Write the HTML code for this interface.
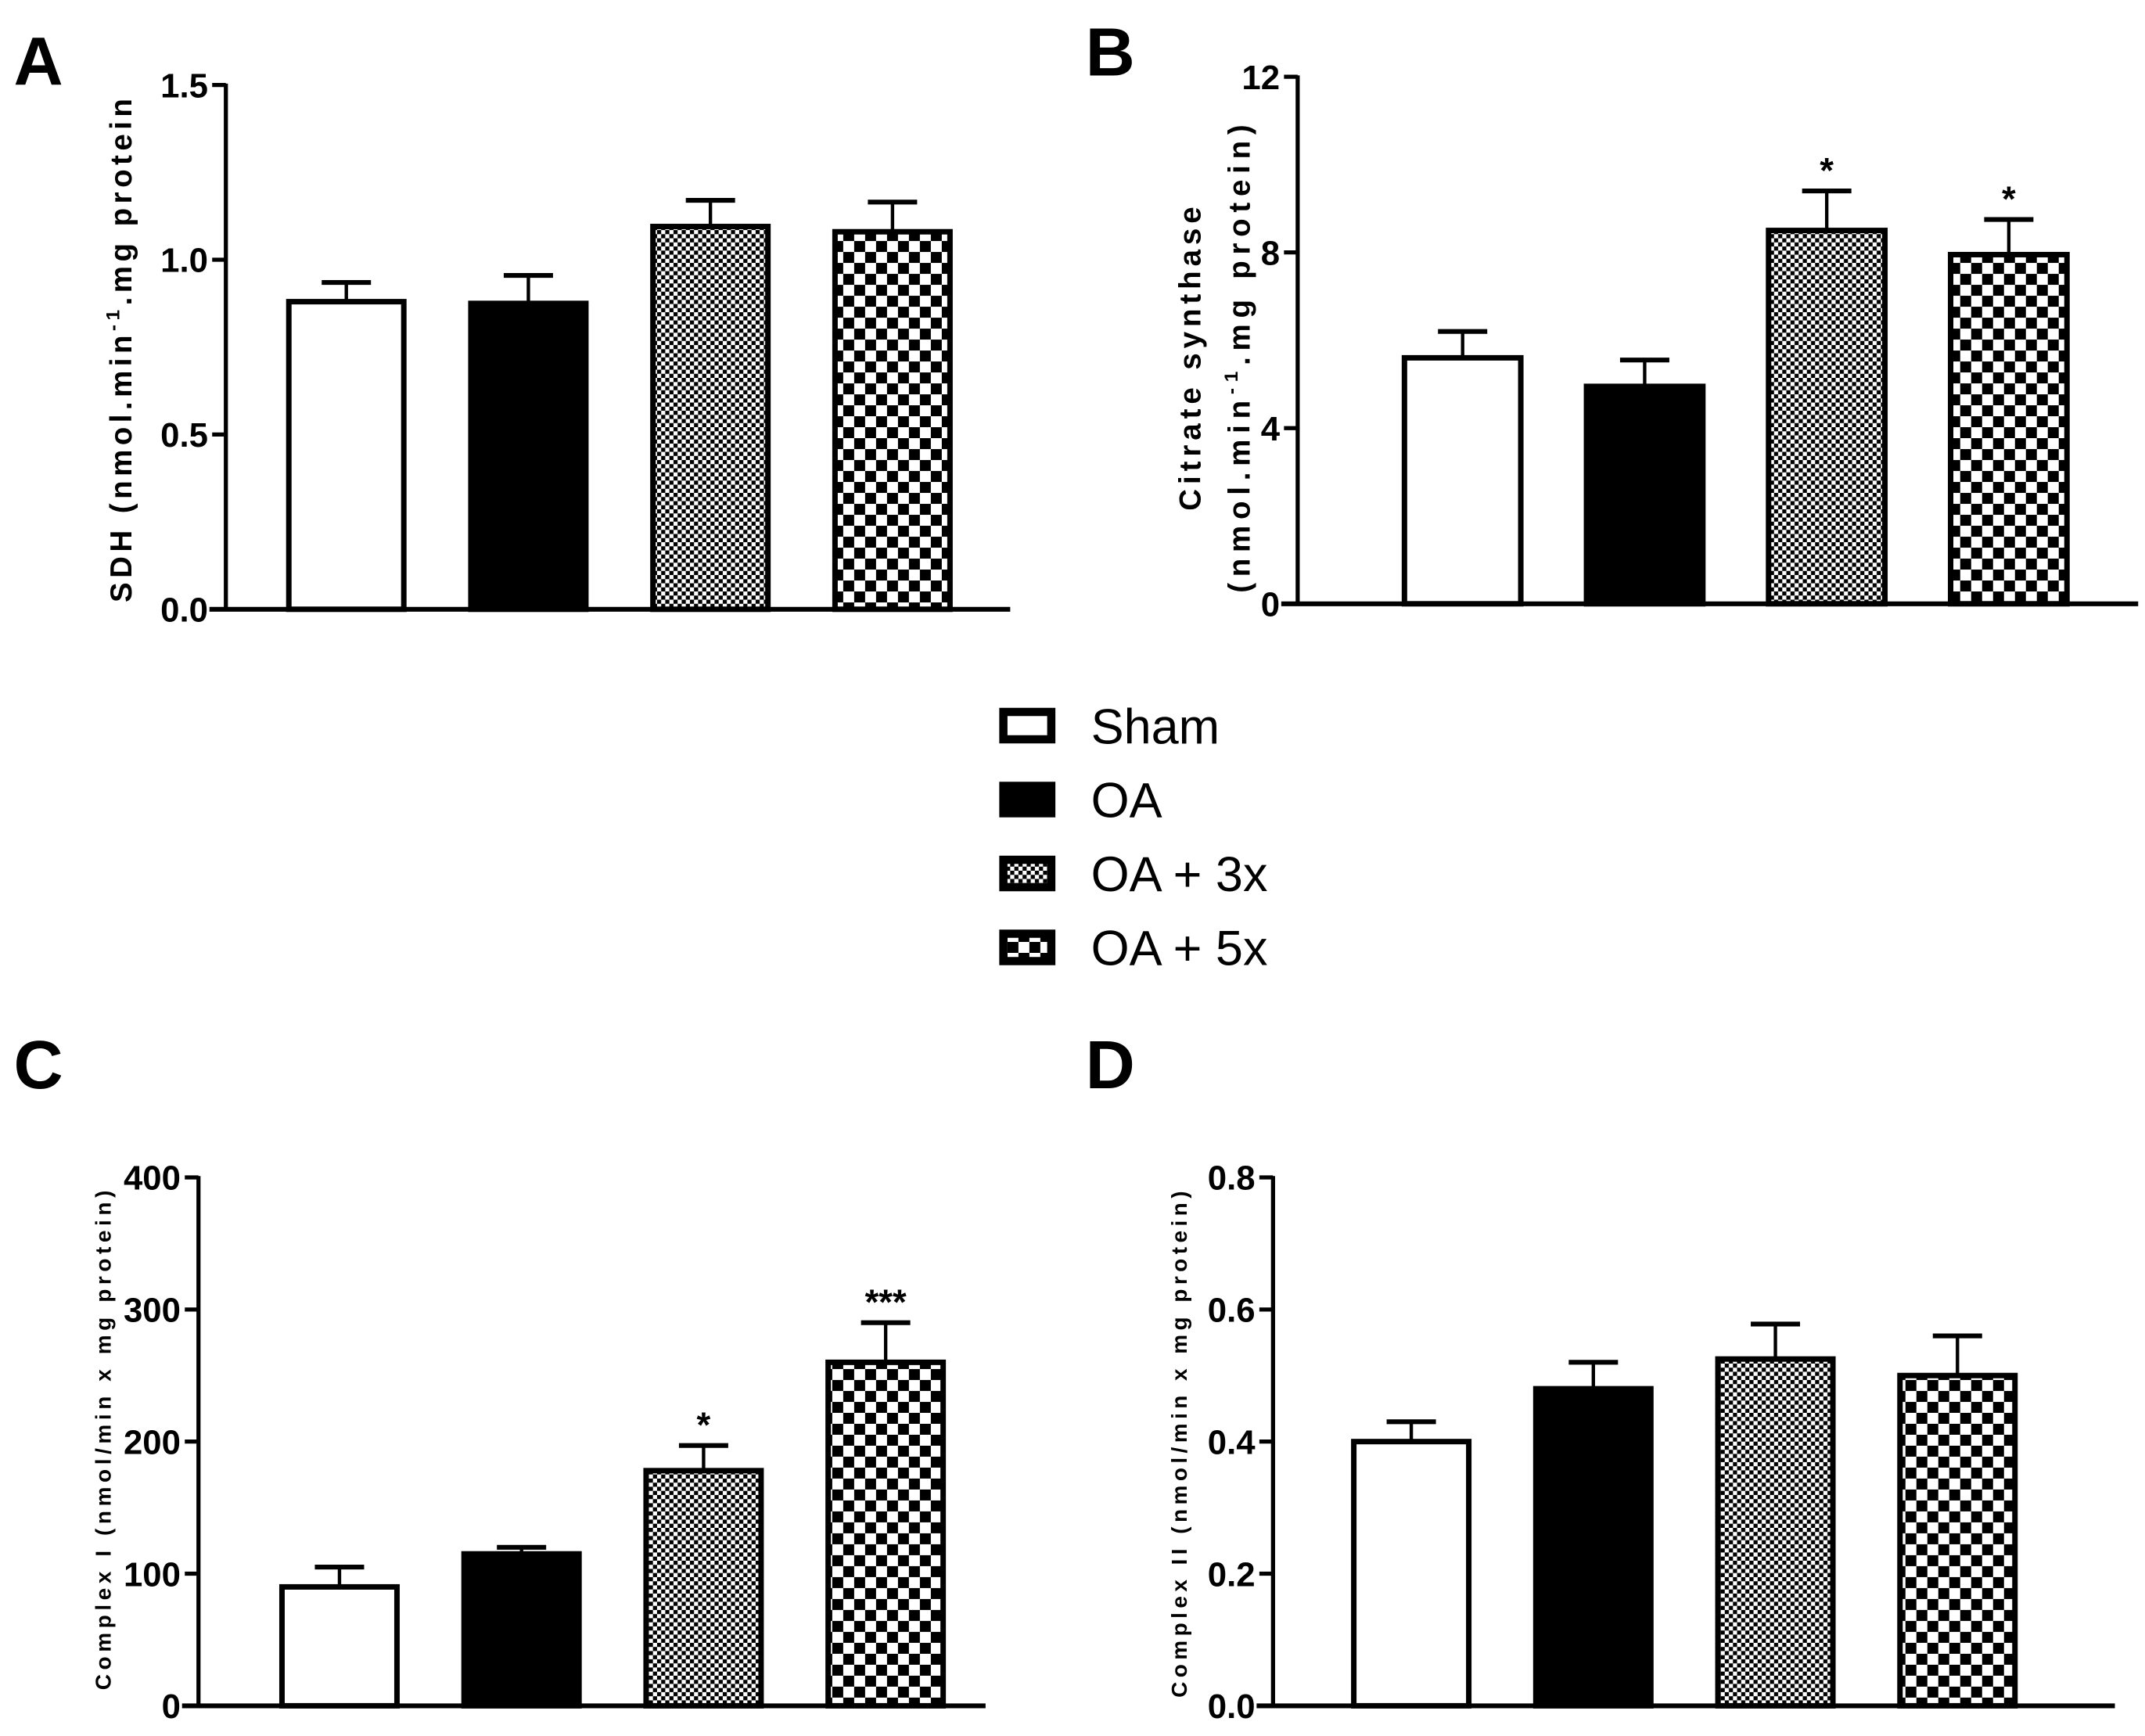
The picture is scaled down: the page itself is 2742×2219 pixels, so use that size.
<!DOCTYPE html>
<html><head><meta charset="utf-8"><style>
html,body{margin:0;padding:0;background:#fff;}
svg{display:block;}
text{font-family:"Liberation Sans",Arial,sans-serif;}
</style></head>
<body>
<svg id="fig" width="2742" height="2219" viewBox="0 0 1567 1268" xmlns="http://www.w3.org/2000/svg">
<defs>
<pattern id="p3" patternUnits="userSpaceOnUse" width="6" height="6"><rect width="6" height="6" fill="#fff"/><rect width="3" height="3" fill="#000"/><rect x="3" y="3" width="3" height="3" fill="#000"/></pattern>
<pattern id="p5" patternUnits="userSpaceOnUse" width="16" height="16"><rect width="16" height="16" fill="#fff"/><rect width="8" height="8" fill="#000"/><rect x="8" y="8" width="8" height="8" fill="#000"/></pattern>
</defs>
<g id="root"></g>
</svg>
<script>
const groups = ["Sham","OA","OA + 3x","OA + 5x"];
const valsA = [0.88,0.875,1.095,1.08];
const errA = [0.055,0.08,0.075,0.085];
const valsB = [5.6,4.95,8.5,7.95];
const errB = [0.6,0.6,0.9,0.8];
const sigB = ["","","*","*"];
const valsC = [90,115,178,260];
const errC = [15,5,19,30];
const sigC = ["","","*","***"];
const valsD = [0.40,0.48,0.525,0.50];
const errD = [0.03,0.04,0.053,0.06];
const ticksA = [0,0.5,1.0,1.5], tickLabA = ["0.0","0.5","1.0","1.5"];
const ticksB = [0,4,8,12], tickLabB = ["0","4","8","12"];
const ticksC = [0,100,200,300,400], tickLabC = ["0","100","200","300","400"];
const ticksD = [0,0.2,0.4,0.6,0.8], tickLabD = ["0.0","0.2","0.4","0.6","0.8"];
const fills = ["#fff","#000","url(#p3)","url(#p5)"];

const NS="http://www.w3.org/2000/svg";
const root=document.getElementById('root');
function mk(tag,attrs,parent){const e=document.createElementNS(NS,tag);for(const k in attrs)e.setAttribute(k,attrs[k]);(parent||root).appendChild(e);return e;}

function panel(cfg){
  const g=mk('g',{});
  
  
  const y=v=>cfg.y0-(v-0)/(cfg.max)*(cfg.y0-cfg.yTop);
  const lt=mk('text',{x:cfg.lx,y:cfg.ly,'font-size':50,'font-weight':'bold'},g);lt.textContent=cfg.letter;
  
  
  const ya=mk('line',{x1:cfg.ax,y1:cfg.yTop-1,x2:cfg.ax,y2:cfg.y0+1.5,stroke:'#000','stroke-width':3},g);
  
  
  const xa=mk('line',{x1:cfg.ax-12,y1:cfg.y0,x2:cfg.axEnd,y2:cfg.y0,stroke:'#000','stroke-width':3.5},g);
  
  
  cfg.ticks.forEach((t,i)=>{
    mk('line',{x1:cfg.ax-10,y1:y(t),x2:cfg.ax,y2:y(t),stroke:'#000','stroke-width':3},g);
    const tx=mk('text',{x:cfg.ax-13,y:y(t)+9,'font-size':25,'font-weight':'bold','text-anchor':'end'},g);
    tx.textContent=cfg.tickLab[i];
    
    
  });
  cfg.vals.forEach((v,i)=>{
    const x0=cfg.bx0+i*cfg.step, w=cfg.bw;
    const top=y(v), et=y(v+cfg.err[i]), cx=x0+w/2;
    const eb=mk('line',{x1:cx,y1:top,x2:cx,y2:et,stroke:'#000','stroke-width':2.5},g);
    
    
    mk('line',{x1:cx-18,y1:et,x2:cx+18,y2:et,stroke:'#000','stroke-width':3.5},g);
    const r=mk('rect',{x:x0,y:top,width:w,height:cfg.y0-top,fill:fills[i],stroke:'#000','stroke-width':4},g);
    
    
    if(cfg.sig && cfg.sig[i]){
      const s=mk('text',{x:cx,y:et-6,'font-size':26,'font-weight':'bold','text-anchor':'middle'},g);
      s.textContent=cfg.sig[i];
      
      
    }
  });
  cfg.titles.forEach((t,j)=>{
    const tt=mk('text',{transform:`translate(${cfg.tx+j*cfg.tdx},${cfg.ty}) rotate(-90)`,'font-size':cfg.tfs,'font-weight':'bold','text-anchor':'middle',textLength:cfg.tlen[j],lengthAdjust:'spacing'},g);
    tt.innerHTML=t;
    
    
  });
}

panel({letter:'A',lx:10,ly:62,ax:165,axEnd:738,y0:445,yTop:62,max:1.5,ticks:ticksA,tickLab:tickLabA,vals:valsA,err:errA,bx0:211,step:133,bw:84,
  titles:['SDH (nmol.min<tspan dy="-9" font-size="14">-1</tspan><tspan dy="9">.mg protein</tspan>'],tlen:[368],tx:96,tdx:0,ty:256,tfs:22});
panel({letter:'B',lx:793,ly:55,ax:948,axEnd:1562,y0:441,yTop:56,max:12,ticks:ticksB,tickLab:tickLabB,vals:valsB,err:errB,sig:sigB,bx0:1026,step:133,bw:85,
  titles:['Citrate synthase','(nmol.min<tspan dy="-9" font-size="14">-1</tspan><tspan dy="9">.mg protein)</tspan>'],tlen:[222,342],tx:877,tdx:36,ty:262,tfs:22});
panel({letter:'C',lx:10,ly:795,ax:145,axEnd:720,y0:1246,yTop:860,max:400,ticks:ticksC,tickLab:tickLabC,vals:valsC,err:errC,sig:sigC,bx0:206,step:133,bw:84,
  titles:['Complex I (nmol/min x mg protein)'],tlen:[365],tx:81,tdx:0,ty:1052,tfs:16});
panel({letter:'D',lx:793,ly:795,ax:930,axEnd:1545,y0:1246,yTop:860,max:0.8,ticks:ticksD,tickLab:tickLabD,vals:valsD,err:errD,bx0:989,step:133,bw:84,
  titles:['Complex II (nmol/min x mg protein)'],tlen:[370],tx:867,tdx:0,ty:1055,tfs:16});

// legend
const lg=mk('g',{});


const legY=[530,584,638,692];
groups.forEach((n,i)=>{
  const e=mk('g',{},lg);
  
  
  if(i===0) mk('rect',{x:733,y:legY[i]-10,width:35,height:20,fill:'#fff',stroke:'#000','stroke-width':6},e);
  else if(i===1) mk('rect',{x:730,y:legY[i]-13,width:41,height:26,fill:'#000'},e);
  else { mk('rect',{x:730,y:legY[i]-13,width:41,height:26,fill:'#000'},e);
         mk('rect',{x:736,y:legY[i]-7,width:29,height:14,fill:i===2?'url(#p3)':'url(#p5)'},e); }
  const t=mk('text',{x:797,y:legY[i]+13,'font-size':36},e);t.textContent=n;
});
</script>
</body></html>
